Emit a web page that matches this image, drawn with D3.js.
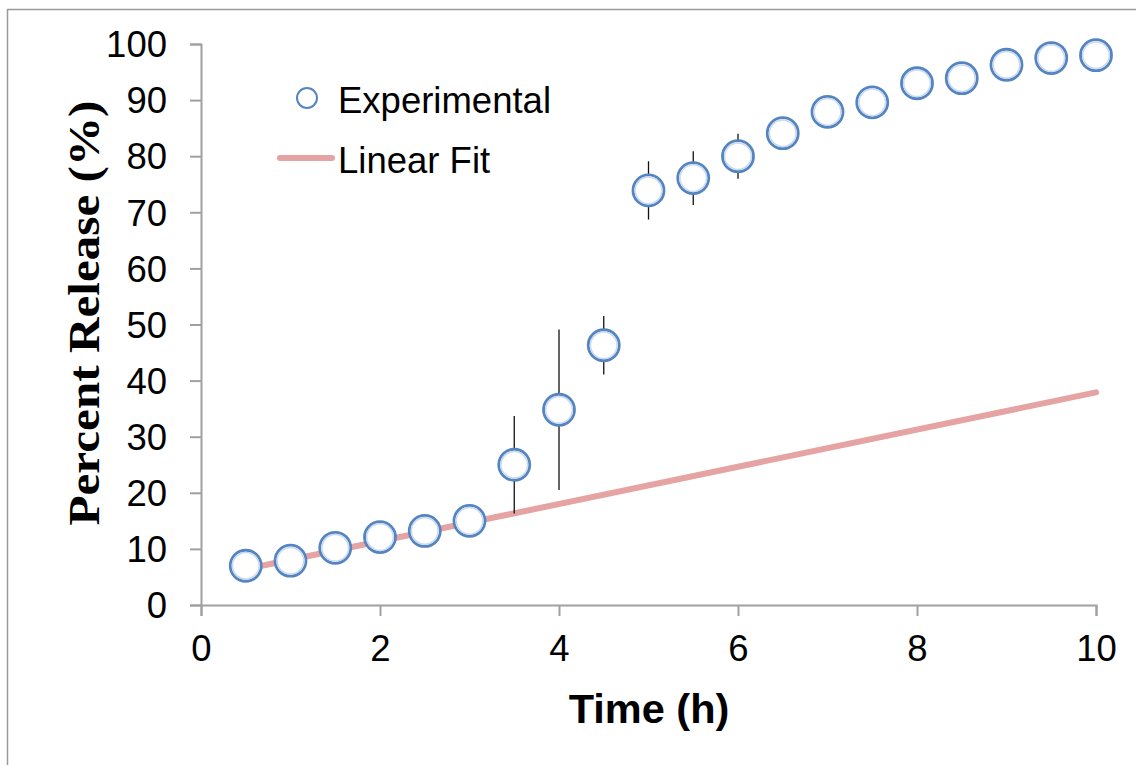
<!DOCTYPE html>
<html>
<head>
<meta charset="utf-8">
<script src="https://cdn.jsdelivr.net/npm/d3@7"></script>
<style>
  body { margin: 0; background: #fff; }
  svg { display: block; }
</style>
</head>
<body>
<svg id="chart" width="1136" height="765"></svg>
<script>
// experimental release data
const times = [0.5, 1, 1.5, 2, 2.5, 3, 3.5, 4, 4.5, 5, 5.5, 6, 6.5, 7, 7.5, 8, 8.5, 9, 9.5, 10];
const release = [7.0, 7.9, 10.2, 12.1, 13.2, 15.0, 25.0, 34.8, 46.3, 73.9, 76.1, 80.0, 84.1, 87.9, 89.6, 93.0, 93.9, 96.3, 97.5, 98.0];
const errors = [0.5, 0.5, 0.6, 0.6, 0.7, 0.8, 8.7, 14.3, 5.2, 5.2, 4.8, 4.0, 1.2, 1.0, 1.0, 0.8, 0.8, 0.6, 0.5, 0.5];

// linear fit end points
const fitTimes = [0.5, 10];
const fitValues = [6.4, 37.9];

const xTicks = [0, 2, 4, 6, 8, 10];
const yTicks = [0, 10, 20, 30, 40, 50, 60, 70, 80, 90, 100];

const svg = d3.select("#chart");
const axisColor = "#a0a0a0";
const markerColor = "#5585c0";
const fitColor = "#e5a3a3";

let x = d3.scaleLinear().domain([0, 10]).range([201, 1096]);
let y = d3.scaleLinear().domain([0, 100]).range([605, 44]);

// outer chart border
svg.append("rect")
  .attr("x", 7.5).attr("y", 9.5)
  .attr("width", 1140).attr("height", 770)
  .attr("fill", "none")
  .attr("stroke", "#9a9a9a")
  .attr("stroke-width", 1.5);

// axes
let xAxis = svg.append("g")
  .attr("transform", "translate(0," + y(0) + ")")
  .call(d3.axisBottom(x).tickValues(xTicks).tickSize(11).tickPadding(19).tickFormat(d3.format("d")));

let yAxis = svg.append("g")
  .attr("transform", "translate(" + x(0) + ",0)")
  .call(d3.axisLeft(y).tickValues(yTicks).tickSize(11).tickPadding(23).tickFormat(d3.format("d")));

[xAxis, yAxis].forEach(a => {
  a.select(".domain").attr("stroke", axisColor).attr("stroke-width", 2);
  a.selectAll(".tick line").attr("stroke", axisColor).attr("stroke-width", 2);
  a.selectAll(".tick text")
    .attr("fill", "#000")
    .style("font-family", "Liberation Sans, Arial, sans-serif")
    .style("font-size", "36.5px");
});
yAxis.selectAll(".tick text").attr("dy", "0.35em");

// linear fit line
let line = d3.line()
  .x((d, i) => x(fitTimes[i]))
  .y(d => y(d));

svg.append("path")
  .datum(fitValues)
  .attr("d", line)
  .attr("fill", "none")
  .attr("stroke", fitColor)
  .attr("stroke-width", 6)
  .attr("stroke-linecap", "round");

// error bars
svg.append("g").selectAll("line")
  .data(times)
  .enter()
  .append("line")
  .attr("x1", d => x(d))
  .attr("x2", d => x(d))
  .attr("y1", (d, i) => y(release[i] + errors[i]))
  .attr("y2", (d, i) => y(release[i] - errors[i]))
  .attr("stroke", "#111")
  .attr("stroke-width", 1.3);

// markers
let pts = svg.append("g").selectAll("g")
  .data(times)
  .enter()
  .append("g")
  .attr("transform", (d, i) => "translate(" + x(d) + "," + y(release[i]) + ")");

pts.append("circle")
  .attr("r", 15.5)
  .attr("fill", "#fff")
  .attr("stroke", markerColor)
  .attr("stroke-width", 2.8);
pts.append("circle")
  .attr("r", 13.3)
  .attr("fill", "none")
  .attr("stroke", "#c9d9ee")
  .attr("stroke-width", 1.5);

// legend
let legend = svg.append("g");
legend.append("circle")
  .attr("cx", 307).attr("cy", 98).attr("r", 10)
  .attr("fill", "#fff")
  .attr("stroke", markerColor)
  .attr("stroke-width", 2);
legend.append("line")
  .attr("x1", 280).attr("x2", 332)
  .attr("y1", 158).attr("y2", 158)
  .attr("stroke", fitColor)
  .attr("stroke-width", 6)
  .attr("stroke-linecap", "round");
legend.selectAll("text")
  .data(["Experimental", "Linear Fit"])
  .enter()
  .append("text")
  .attr("x", 338)
  .attr("y", (d, i) => 113 + i * 60)
  .style("font-family", "Liberation Sans, Arial, sans-serif")
  .style("font-size", "36.5px")
  .text(d => d);

// axis titles
svg.append("text")
  .attr("x", 649).attr("y", 723)
  .attr("text-anchor", "middle")
  .style("font-family", "Liberation Sans, Arial, sans-serif")
  .style("font-weight", "bold")
  .style("font-size", "41.5px")
  .text("Time (h)");

svg.append("text")
  .attr("transform", "translate(99,313) rotate(-90)")
  .attr("text-anchor", "middle")
  .attr("textLength", 425)
  .attr("lengthAdjust", "spacingAndGlyphs")
  .style("font-family", "Liberation Serif, Times New Roman, serif")
  .style("font-weight", "bold")
  .style("font-size", "45px")
  .text("Percent Release (%)");
</script>
</body>
</html>
